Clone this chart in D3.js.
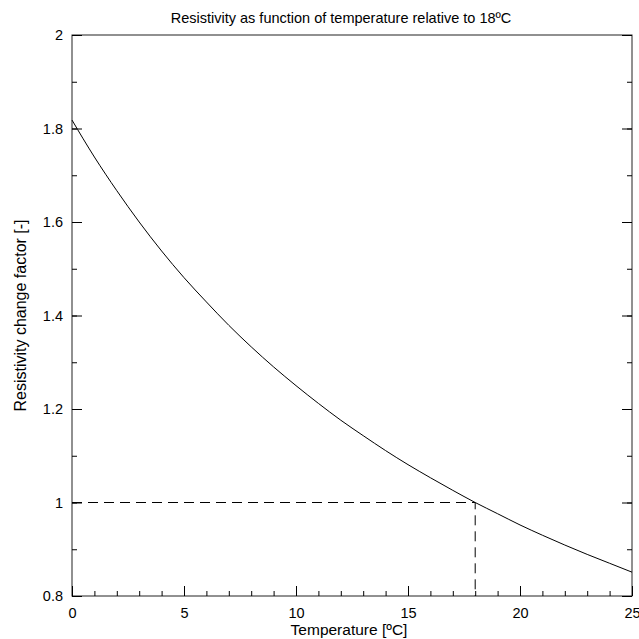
<!DOCTYPE html>
<html>
<head>
<meta charset="utf-8">
<script src="https://cdn.jsdelivr.net/npm/d3@7"></script>
<style>
  body { margin: 0; background: #fff; }
  text { font-family: "Liberation Sans", Arial, sans-serif; }
</style>
</head>
<body>
<div id="chart"></div>
<script>
// Curve: temperature [ºC] and resistivity factor
const temps = [0, 1, 2, 3, 4, 5, 6, 7, 8, 9, 10, 11, 12, 13, 14, 15, 16, 17, 18, 19, 20, 21, 22, 23, 24, 25];
const factors = [1.818, 1.739, 1.667, 1.600, 1.538, 1.481, 1.429, 1.379, 1.333, 1.290, 1.250, 1.212,
    1.176, 1.143, 1.111, 1.081, 1.053, 1.026, 1.000, 0.976, 0.952, 0.930, 0.909, 0.889, 0.870, 0.851];
const refTemp = 18;
const refFactor = 1;
const xTicks = [0, 5, 10, 15, 20, 25];
const yTicks = [0.8, 1, 1.2, 1.4, 1.6, 1.8, 2];

const W = 639, H = 639;
const margin = { top: 35, right: 7, bottom: 43, left: 72 };
const width = W - margin.left - margin.right;
const height = H - margin.top - margin.bottom;

const svg = d3.select('#chart')
    .append('svg')
    .attr('width', W)
    .attr('height', H);

const g = svg.append('g')
    .attr('transform', 'translate(' + margin.left + ',' + margin.top + ')');

const x = d3.scaleLinear().domain([0, 25]).range([0, width]);
const y = d3.scaleLinear().domain([0.8, 2]).range([height, 0]);

// frame
g.append('rect')
    .attr('width', width)
    .attr('height', height)
    .attr('fill', 'none')
    .attr('stroke', '#222')
    .attr('stroke-width', 1);

// inward ticks: major + minor
function styleAxis(sel) {
    sel.select('.domain').remove();
    sel.selectAll('.tick line').attr('stroke', '#000');
    sel.selectAll('text').attr('font-size', 14.5).attr('fill', '#000');
}

const xMinor = d3.range(0, 26, 1);
const yMinor = d3.range(8, 21, 1).map(d => d / 10);

g.append('g')
    .attr('transform', 'translate(0,' + height + ')')
    .call(d3.axisBottom(x).tickValues(xMinor).tickSize(-5).tickFormat(''))
    .call(styleAxis);
g.append('g')
    .attr('transform', 'translate(0,' + height + ')')
    .call(d3.axisBottom(x).tickValues(xTicks).tickSize(-10).tickPadding(12).tickFormat(d3.format('d')))
    .call(styleAxis);

g.append('g')
    .call(d3.axisLeft(y).tickValues(yMinor).tickSize(-5).tickFormat(''))
    .call(styleAxis);
g.append('g')
    .call(d3.axisLeft(y).tickValues(yTicks).tickSize(-10).tickPadding(9).tickFormat(d => d3.format('')(+d.toFixed(1))))
    .call(styleAxis);

g.append('g')
    .attr('transform', 'translate(' + width + ',0)')
    .call(d3.axisRight(y).tickValues(yMinor).tickSize(-5).tickFormat(''))
    .call(styleAxis);
g.append('g')
    .attr('transform', 'translate(' + width + ',0)')
    .call(d3.axisRight(y).tickValues(yTicks).tickSize(-10).tickFormat(''))
    .call(styleAxis);

// reference dashed lines
g.append('path')
    .attr('d', d3.line()([[x(0), y(refFactor)], [x(refTemp), y(refFactor)], [x(refTemp), y(0.8)]]))
    .attr('fill', 'none')
    .attr('stroke', '#000')
    .attr('stroke-dasharray', '10,6');

// curve
const data = temps.map((t, i) => ({ t: t, v: factors[i] }));
g.append('path')
    .datum(data)
    .attr('fill', 'none')
    .attr('stroke', '#000')
    .attr('stroke-width', 1)
    .attr('d', d3.line().x(d => x(d.t)).y(d => y(d.v)).curve(d3.curveMonotoneX));

// titles
svg.append('text')
    .attr('x', 341)
    .attr('y', 23)
    .attr('text-anchor', 'middle')
    .attr('font-size', 14.5)
    .text('Resistivity as function of temperature relative to 18ºC');

svg.append('text')
    .attr('x', 349)
    .attr('y', 635)
    .attr('text-anchor', 'middle')
    .attr('font-size', 15.5)
    .text('Temperature [ºC]');

svg.append('text')
    .attr('transform', 'translate(26,' + (margin.top + height / 2) + ') rotate(-90)')
    .attr('text-anchor', 'middle')
    .attr('font-size', 16)
    .text('Resistivity change factor [-]');
</script>
</body>
</html>
